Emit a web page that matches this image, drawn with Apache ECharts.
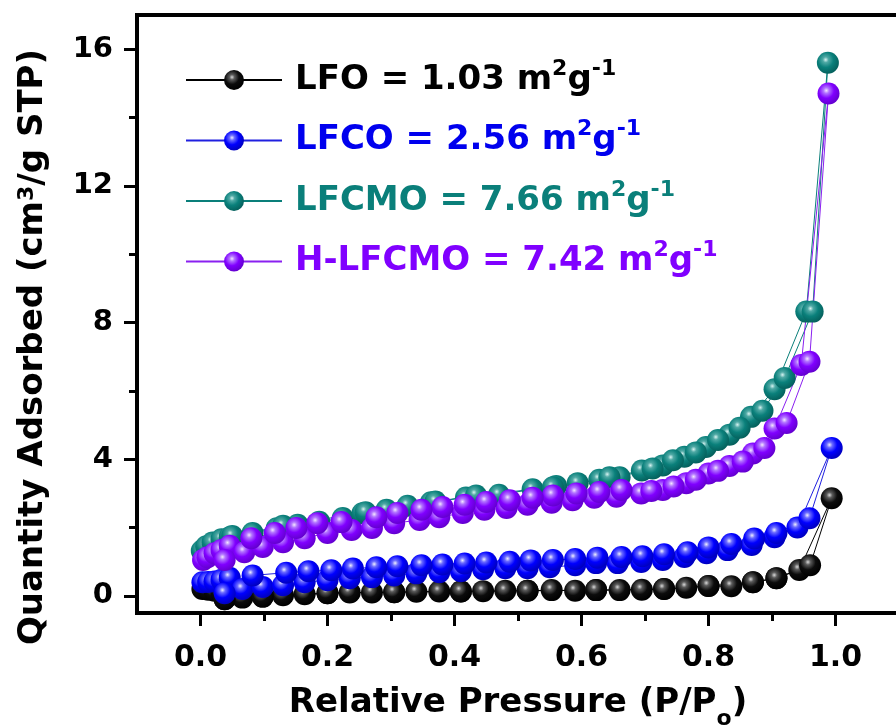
<!DOCTYPE html>
<html>
<head>
<meta charset="utf-8">
<script src="https://cdn.jsdelivr.net/npm/echarts@6/dist/echarts.min.js"></script>
<style>
  html, body { margin: 0; padding: 0; background: #ffffff; }
  #chart { width: 896px; height: 727px; }
</style>
</head>
<body>
<div id="chart"></div>
<script>
// N2 adsorption–desorption isotherms: [P/Po, quantity adsorbed (cm3/g STP)]
// adsorption branch first, then the desorption branch back down.
const sampleNames = ['LFO', 'LFCO', 'LFCMO', 'H-LFCMO'];
const surfaceAreas = ['1.03', '2.56', '7.66', '7.42'];

const pressureTicks = [0, 0.2, 0.4, 0.6, 0.8, 1.0];
const pressureMinorTicks = [0.1, 0.3, 0.5, 0.7, 0.9];
const quantityTicks = [0, 4, 8, 12, 16];
const quantityMinorTicks = [2, 6, 10, 14];

const lfoIsotherm = [
  [0.003, 0.20], [0.012, 0.18], [0.022, 0.15], [0.033, 0.10], [0.038, -0.10], [0.066, -0.05],
  [0.098, -0.02], [0.13, 0.02], [0.164, 0.05], [0.2, 0.08], [0.235, 0.10], [0.27, 0.10],
  [0.305, 0.11], [0.34, 0.12], [0.376, 0.13], [0.41, 0.13], [0.445, 0.14], [0.48, 0.15],
  [0.515, 0.15], [0.553, 0.17], [0.59, 0.15], [0.623, 0.17], [0.66, 0.17], [0.695, 0.18],
  [0.73, 0.20], [0.765, 0.24], [0.8, 0.29], [0.836, 0.28], [0.87, 0.40], [0.907, 0.52],
  [0.943, 0.76], [0.994, 2.86],
  [0.96, 0.90], [0.907, 0.52], [0.87, 0.40], [0.8, 0.29], [0.73, 0.20], [0.623, 0.17],
  [0.515, 0.15], [0.41, 0.13], [0.305, 0.11], [0.2, 0.08], [0.098, -0.02], [0.038, -0.10]
];

const lfcoIsotherm = [
  [0.003, 0.40], [0.012, 0.41], [0.022, 0.42], [0.033, 0.47], [0.046, 0.53], [0.066, 0.20],
  [0.098, 0.26], [0.13, 0.31], [0.164, 0.40], [0.2, 0.46], [0.235, 0.52], [0.27, 0.55],
  [0.305, 0.60], [0.34, 0.66], [0.376, 0.69], [0.41, 0.72], [0.445, 0.78], [0.48, 0.81],
  [0.515, 0.81], [0.55, 0.84], [0.59, 0.90], [0.623, 0.96], [0.657, 0.96], [0.694, 0.99],
  [0.728, 1.05], [0.762, 1.14], [0.797, 1.25], [0.83, 1.34], [0.868, 1.49], [0.904, 1.72],
  [0.94, 2.00], [0.994, 4.33],
  [0.959, 2.27], [0.907, 1.84], [0.872, 1.68], [0.836, 1.52], [0.80, 1.42], [0.767, 1.28],
  [0.73, 1.22], [0.696, 1.16], [0.663, 1.14], [0.625, 1.12], [0.59, 1.08], [0.555, 1.05],
  [0.52, 1.04], [0.487, 1.00], [0.45, 0.98], [0.416, 0.95], [0.381, 0.92], [0.348, 0.90],
  [0.31, 0.87], [0.277, 0.84], [0.24, 0.80], [0.206, 0.75], [0.17, 0.72], [0.135, 0.68],
  [0.082, 0.60], [0.038, 0.08]
];

const lfcmoIsotherm = [
  [0.002, 1.32], [0.009, 1.45], [0.019, 1.56], [0.033, 1.66], [0.046, 1.72], [0.082, 1.84],
  [0.12, 1.98], [0.153, 2.08], [0.187, 2.17], [0.224, 2.28], [0.255, 2.42], [0.293, 2.52],
  [0.326, 2.64], [0.363, 2.74], [0.418, 2.88], [0.47, 2.96], [0.523, 3.12], [0.56, 3.22],
  [0.594, 3.30], [0.628, 3.40], [0.66, 3.47], [0.695, 3.67], [0.728, 3.82], [0.762, 4.07],
  [0.796, 4.36], [0.833, 4.72], [0.867, 5.24], [0.904, 6.05], [0.954, 8.32], [0.988, 15.6],
  [0.964, 8.32], [0.92, 6.38], [0.885, 5.42], [0.849, 4.92], [0.815, 4.56], [0.78, 4.20],
  [0.744, 3.97], [0.712, 3.73], [0.644, 3.47], [0.555, 3.18], [0.434, 2.94], [0.37, 2.76],
  [0.26, 2.45], [0.13, 2.05], [0.05, 1.75]
];

const hlfcmoIsotherm = [
  [0.004, 1.05], [0.011, 1.13], [0.022, 1.25], [0.033, 1.34], [0.046, 1.47], [0.069, 1.28],
  [0.098, 1.43], [0.13, 1.57], [0.164, 1.69], [0.2, 1.84], [0.238, 1.93], [0.27, 1.99],
  [0.305, 2.13], [0.345, 2.22], [0.376, 2.30], [0.413, 2.43], [0.447, 2.52], [0.482, 2.57],
  [0.515, 2.67], [0.553, 2.73], [0.586, 2.80], [0.62, 2.87], [0.655, 2.90], [0.694, 3.00],
  [0.728, 3.10], [0.765, 3.30], [0.8, 3.58], [0.833, 3.80], [0.87, 4.17], [0.904, 4.90],
  [0.946, 6.76], [0.989, 14.7],
  [0.959, 6.85], [0.923, 5.06], [0.888, 4.33], [0.854, 3.93], [0.815, 3.66], [0.78, 3.40],
  [0.745, 3.20], [0.71, 3.07], [0.663, 3.10], [0.628, 3.04], [0.592, 3.00], [0.555, 2.94],
  [0.523, 2.87], [0.487, 2.80], [0.45, 2.75], [0.416, 2.67], [0.381, 2.60], [0.348, 2.52],
  [0.31, 2.43], [0.277, 2.30], [0.222, 2.16], [0.184, 2.13], [0.151, 1.99], [0.117, 1.84],
  [0.08, 1.69], [0.038, 1.05]
];

const isotherms = [lfoIsotherm, lfcoIsotherm, lfcmoIsotherm, hlfcmoIsotherm];

const FONT = "'DejaVu Sans', sans-serif";
const lineColors = ['#000000', '#2020e0', '#0a7f7a', '#8a20f0'];
const textColors = ['#000000', '#0000ee', '#0a7f7a', '#8000ff'];
// shaded "ball" look for the markers: highlight, body, edge
const ballShades = [
  ['#d8d8d8', '#5a5a5a', '#0c0c0c', '#000000'],
  ['#eeeeff', '#6a6aff', '#0000ff', '#0000c0'],
  ['#d8f4f2', '#4fa9a5', '#0a807b', '#05615d'],
  ['#f4e6ff', '#b274ff', '#8000ff', '#6400d0']
];

function ball(s) {
  return {
    type: 'radial', x: 0.4, y: 0.36, r: 0.64,
    colorStops: [
      { offset: 0, color: s[0] },
      { offset: 0.2, color: s[1] },
      { offset: 0.55, color: s[2] },
      { offset: 1, color: s[3] }
    ]
  };
}

// rich-text styles for the legend, one set per colour
const legendRich = {};
textColors.forEach(function (c, i) {
  legendRich['b' + i] = { fontFamily: FONT, fontWeight: 'bold', fontSize: 34, lineHeight: 44, color: c, verticalAlign: 'middle' };
  legendRich['s' + i] = { fontFamily: FONT, fontWeight: 'bold', fontSize: 22, lineHeight: 22, color: c, verticalAlign: 'top' };
});

const series = sampleNames.map(function (name, i) {
  return {
    type: 'line',
    name: name,
    data: isotherms[i],
    symbol: 'circle',
    symbolSize: 22,
    showAllSymbol: true,
    clip: false,
    itemStyle: { color: ball(ballShades[i]), borderWidth: 0 },
    lineStyle: { color: lineColors[i], width: 1 },
    emphasis: { disabled: true }
  };
});

const labelFont = { fontFamily: FONT, fontWeight: 'bold', color: '#000000' };

const option = {
  animation: false,
  backgroundColor: '#ffffff',
  grid: {
    left: 137, top: 15, width: 762, height: 598,
    containLabel: false, outerBoundsMode: 'none',
    show: true, borderColor: '#000000', borderWidth: 4, backgroundColor: 'transparent'
  },
  legend: {
    orient: 'vertical',
    left: 185, top: 58, padding: 0,
    itemWidth: 96, itemHeight: 25, itemGap: 21.5,
    selectedMode: false,
    data: sampleNames.map(function (n) { return { name: n }; }),
    formatter: function (name) {
      const i = sampleNames.indexOf(name);
      return '{b' + i + '|' + name + ' = ' + surfaceAreas[i] + ' m}{s' + i + '|2}{b' + i + '|g}{s' + i + '|-1}';
    },
    textStyle: { fontFamily: FONT, fontWeight: 'bold', fontSize: 34, padding: [0, 0, 0, 8], rich: legendRich }
  },
  xAxis: [
    {
      type: 'value', min: -0.1, max: 1.1, position: 'bottom',
      name: '{a|Relative Pressure (P/P}{o|o}{a|)}',
      nameLocation: 'middle', nameGap: 73,
      nameTextStyle: {
        rich: {
          a: { fontFamily: FONT, fontWeight: 'bold', fontSize: 34, lineHeight: 40, color: '#000', verticalAlign: 'top' },
          o: { fontFamily: FONT, fontWeight: 'bold', fontSize: 22, lineHeight: 22, color: '#000', verticalAlign: 'top', padding: [22, 0, 0, 0] }
        }
      },
      axisLine: { show: true, onZero: false, lineStyle: { color: '#000', width: 4 } },
      axisTick: { show: true, inside: false, length: 13, lineStyle: { width: 3, color: '#000' }, customValues: pressureTicks },
      axisLabel: {
        show: true, margin: 30, fontSize: 30, ...labelFont,
        customValues: pressureTicks,
        formatter: function (v) { return v.toFixed(1); }
      },
      splitLine: { show: false }
    },
    {
      type: 'value', min: -0.1, max: 1.1, position: 'bottom',
      axisLine: { show: false, onZero: false },
      axisTick: { show: true, inside: false, length: 8, lineStyle: { width: 3, color: '#000' }, customValues: pressureMinorTicks },
      axisLabel: { show: false },
      splitLine: { show: false }
    }
  ],
  yAxis: [
    {
      type: 'value', min: -0.5, max: 17, position: 'left',
      name: '{a|Quantity Adsorbed (cm}{s|3}{a|/g STP)}',
      nameLocation: 'middle', nameGap: 81,
      nameTextStyle: {
        padding: [0, 66, 0, 0],
        rich: {
          a: { fontFamily: FONT, fontWeight: 'bold', fontSize: 34, lineHeight: 40, color: '#000', verticalAlign: 'top' },
          s: { fontFamily: FONT, fontWeight: 'bold', fontSize: 22, lineHeight: 22, color: '#000', verticalAlign: 'top' }
        }
      },
      axisLine: { show: true, onZero: false, lineStyle: { color: '#000', width: 4 } },
      axisTick: { show: true, inside: false, length: 13, lineStyle: { width: 3, color: '#000' }, customValues: quantityTicks },
      axisLabel: { show: true, margin: 24, fontSize: 29, ...labelFont, customValues: quantityTicks },
      splitLine: { show: false }
    },
    {
      type: 'value', min: -0.5, max: 17, position: 'left',
      axisLine: { show: false, onZero: false },
      axisTick: { show: true, inside: false, length: 8, lineStyle: { width: 3, color: '#000' }, customValues: quantityMinorTicks },
      axisLabel: { show: false },
      splitLine: { show: false }
    }
  ],
  series: series
};

const chart = echarts.init(document.getElementById('chart'), null, { renderer: 'canvas' });
chart.setOption(option);
</script>
</body>
</html>
